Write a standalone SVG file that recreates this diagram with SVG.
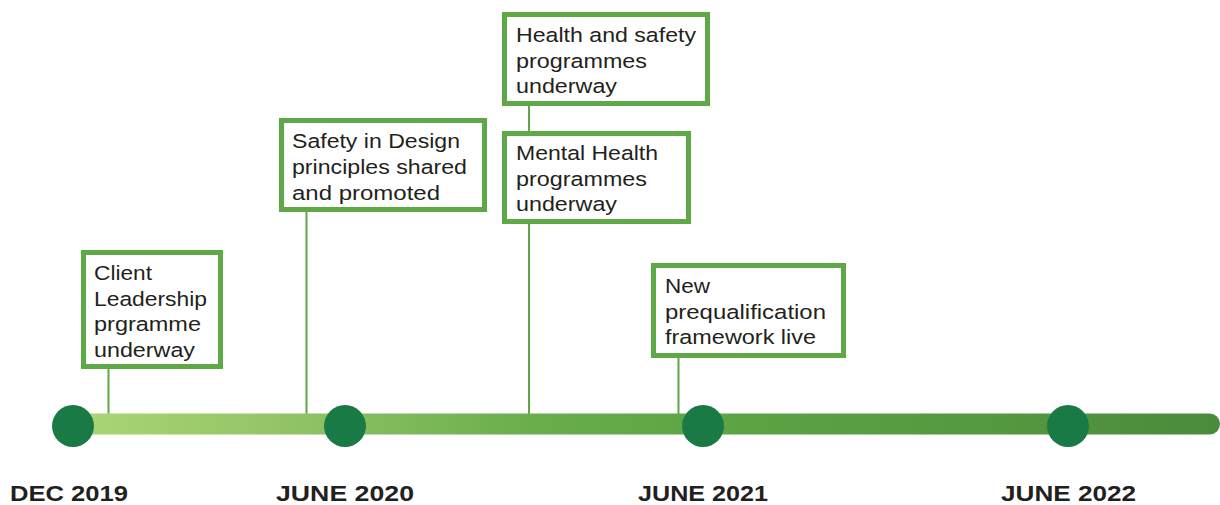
<svg xmlns="http://www.w3.org/2000/svg" width="1220" height="505" viewBox="0 0 1220 505">
<defs>
<linearGradient id="barGrad" x1="73" y1="0" x2="1220" y2="0" gradientUnits="userSpaceOnUse">
<stop offset="0" stop-color="#acd677"/>
<stop offset="0.2" stop-color="#8fc263"/>
<stop offset="0.4" stop-color="#6aae4b"/>
<stop offset="0.55" stop-color="#5da545"/>
<stop offset="0.8" stop-color="#54983f"/>
<stop offset="1" stop-color="#4a8a3c"/>
</linearGradient>
<style>
.box{fill:#fff;stroke:#5fa847;stroke-width:5}
.conn{stroke:#5fa847;stroke-width:2;fill:none}
.t{font-family:"Liberation Sans",Arial,sans-serif;font-size:20.5px;fill:#231f20}
.d{font-family:"Liberation Sans",Arial,sans-serif;font-size:22px;font-weight:bold;fill:#231f20}
.dot{fill:#1a7a45}
</style>
</defs>
<rect width="1220" height="505" fill="#fff"/>
<g id="connectors">
<line class="conn" x1="108.5" y1="368" x2="108.5" y2="415"/>
<line class="conn" x1="306.5" y1="211" x2="306.5" y2="415"/>
<line class="conn" x1="529" y1="105" x2="529" y2="133"/>
<line class="conn" x1="529" y1="223" x2="529" y2="415"/>
<line class="conn" x1="678.5" y1="356" x2="678.5" y2="415"/>
</g>
<g id="timeline">
<rect x="73" y="413.5" width="1147" height="21" rx="10.5" fill="url(#barGrad)"/>
</g>
<g id="m-dec2019">
<circle class="dot" cx="73" cy="426" r="21"/>
<text class="d" x="10" y="500.5" textLength="118" lengthAdjust="spacingAndGlyphs">DEC 2019</text>
</g>
<g id="m-jun2020">
<circle class="dot" cx="345" cy="426" r="21"/>
<text class="d" x="276" y="500.5" textLength="138" lengthAdjust="spacingAndGlyphs">JUNE 2020</text>
</g>
<g id="m-jun2021">
<circle class="dot" cx="703" cy="426" r="21"/>
<text class="d" x="638" y="500.5" textLength="130" lengthAdjust="spacingAndGlyphs">JUNE 2021</text>
</g>
<g id="m-jun2022">
<circle class="dot" cx="1068" cy="426" r="21"/>
<text class="d" x="1001" y="500.5" textLength="135" lengthAdjust="spacingAndGlyphs">JUNE 2022</text>
</g>
<g id="n-client">
<rect class="box" x="83.5" y="252.5" width="137" height="114"/>
<text class="t" x="94" y="280" textLength="58" lengthAdjust="spacingAndGlyphs">Client</text>
<text class="t" x="94" y="305.5" textLength="113" lengthAdjust="spacingAndGlyphs">Leadership</text>
<text class="t" x="94" y="331" textLength="107" lengthAdjust="spacingAndGlyphs">prgramme</text>
<text class="t" x="94" y="356.5" textLength="101" lengthAdjust="spacingAndGlyphs">underway</text>
</g>
<g id="n-safety">
<rect class="box" x="281.5" y="120.5" width="203" height="89"/>
<text class="t" x="292" y="148" textLength="168" lengthAdjust="spacingAndGlyphs">Safety in Design</text>
<text class="t" x="292" y="174" textLength="175" lengthAdjust="spacingAndGlyphs">principles shared</text>
<text class="t" x="292" y="199.5" textLength="148" lengthAdjust="spacingAndGlyphs">and promoted</text>
</g>
<g id="n-health">
<rect class="box" x="504.5" y="14.5" width="203" height="89"/>
<text class="t" x="516" y="42" textLength="180" lengthAdjust="spacingAndGlyphs">Health and safety</text>
<text class="t" x="516" y="68" textLength="131" lengthAdjust="spacingAndGlyphs">programmes</text>
<text class="t" x="516" y="93" textLength="101" lengthAdjust="spacingAndGlyphs">underway</text>
</g>
<g id="n-mental">
<rect class="box" x="504.5" y="133.5" width="184" height="88"/>
<text class="t" x="516" y="160" textLength="142" lengthAdjust="spacingAndGlyphs">Mental Health</text>
<text class="t" x="516" y="185.5" textLength="131" lengthAdjust="spacingAndGlyphs">programmes</text>
<text class="t" x="516" y="210.5" textLength="101" lengthAdjust="spacingAndGlyphs">underway</text>
</g>
<g id="n-prequal">
<rect class="box" x="653.5" y="265.5" width="190" height="90"/>
<text class="t" x="665" y="293" textLength="45" lengthAdjust="spacingAndGlyphs">New</text>
<text class="t" x="665" y="319" textLength="161" lengthAdjust="spacingAndGlyphs">prequalification</text>
<text class="t" x="665" y="344" textLength="151" lengthAdjust="spacingAndGlyphs">framework live</text>
</g>
</svg>
